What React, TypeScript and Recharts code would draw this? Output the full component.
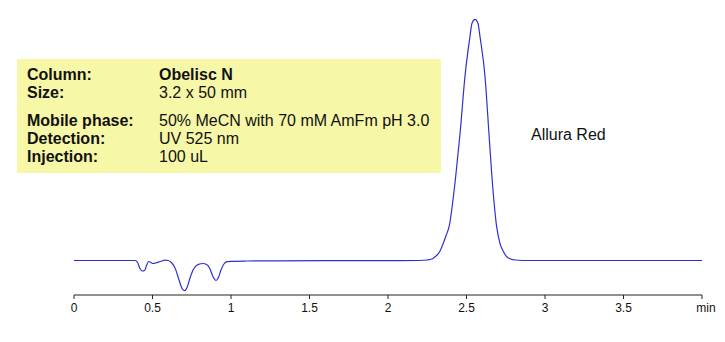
import { LineChart, Line, XAxis, YAxis } from 'recharts'

// retention time (min) and detector signal
const times = [
  0, 0.2, 0.39, 0.405, 0.42, 0.435, 0.45, 0.462, 0.475, 0.49, 0.505, 0.52, 0.55, 0.58, 0.6,
  0.62, 0.645, 0.67, 0.69, 0.705, 0.72, 0.74, 0.76, 0.78, 0.8, 0.82, 0.845, 0.865, 0.885,
  0.905, 0.92, 0.935, 0.955, 0.975, 1.0, 1.1, 1.3, 1.6, 2.0, 2.2, 2.25, 2.28, 2.3, 2.33,
  2.352, 2.37, 2.389, 2.431, 2.459, 2.49, 2.522, 2.535, 2.554, 2.573, 2.586, 2.618, 2.643,
  2.662, 2.692, 2.713, 2.735, 2.756, 2.78, 2.81, 2.9, 3.2, 3.6, 4,
]
const signal = [
  0, 0, 0, -2, -8, -10.5, -10, -5, -1, -2, -3, -2.5, -1, 0.3, 0,
  -2, -8, -20, -28.5, -30.2, -27, -17, -9, -5, -3.5, -3, -4, -8, -16,
  -20, -17, -10, -3.5, -1.2, -0.8, -0.5, -0.3, -0.2, -0.2, 0, 0.5, 1.5, 3.8, 9,
  17.2, 25, 33.8, 83.8, 127, 183.8, 223.8, 237.2, 241.2, 237.2, 223.8, 183.8, 127,
  83.8, 33.8, 17.2, 9, 3.8, 1.5, 0.5, 0, 0, 0, 0,
]
const xTicks = [0, 0.5, 1, 1.5, 2, 2.5, 3, 3.5, 4]

const labels = ['Column:', 'Size:', 'Mobile phase:', 'Detection:', 'Injection:']
const values = ['Obelisc N', '3.2 x 50 mm', '50% MeCN with 70 mM AmFm pH 3.0', 'UV 525 nm', '100 uL']
const rowTops = [66, 84, 112, 130, 148]

const data = times.map((t, i) => ({ t, v: signal[i] }))

function TimeTick({ x, y, payload }: { x?: number; y?: number; payload?: { value: number } }) {
  const v = payload?.value ?? 0
  const isEnd = v === 4
  return (
    <text
      x={(x ?? 0) + (isEnd ? 4 : 0)}
      y={y}
      dy="0.71em"
      textAnchor="middle"
      fill="#111"
      fontSize={12}
      fontFamily="Arial, 'Liberation Sans', sans-serif"
    >
      {isEnd ? 'min' : String(v)}
    </text>
  )
}

export default function App() {
  const font = "Arial, 'Liberation Sans', sans-serif"
  return (
    <div style={{ position: 'absolute', left: 0, top: 0, width: 725, height: 342, background: '#fff' }}>
      <div
        style={{
          position: 'absolute',
          left: 17,
          top: 59,
          width: 424,
          height: 114,
          background: '#f7f7a8',
        }}
      />
      {labels.map((l, i) => (
        <div
          key={l}
          style={{
            position: 'absolute',
            left: 27,
            top: rowTops[i],
            fontFamily: font,
            fontSize: 16,
            fontWeight: 'bold',
            color: '#111',
            lineHeight: '18px',
            whiteSpace: 'nowrap',
          }}
        >
          {l}
        </div>
      ))}
      {values.map((v, i) => (
        <div
          key={v}
          style={{
            position: 'absolute',
            left: 159,
            top: rowTops[i],
            fontFamily: font,
            fontSize: 16,
            fontWeight: i === 0 ? 'bold' : 'normal',
            color: '#111',
            lineHeight: '18px',
            whiteSpace: 'nowrap',
          }}
        >
          {v}
        </div>
      ))}
      <div
        style={{
          position: 'absolute',
          left: 531,
          top: 126,
          fontFamily: font,
          fontSize: 16,
          color: '#111',
          lineHeight: '18px',
        }}
      >
        Allura Red
      </div>
      <LineChart
        width={725}
        height={342}
        data={data}
        margin={{ top: 15, right: 23, left: 74, bottom: 17 }}
        style={{ position: 'absolute', left: 0, top: 0 }}
      >
        <XAxis
          dataKey="t"
          type="number"
          domain={[0, 4]}
          ticks={xTicks}
          height={30}
          tickSize={4}
          tickMargin={4}
          axisLine={{ stroke: '#222' }}
          tickLine={{ stroke: '#222' }}
          tick={<TimeTick />}
          interval={0}
        />
        <YAxis type="number" domain={[-34.5, 245.5]} hide />
        <Line
          type="monotone"
          dataKey="v"
          stroke="#3030d0"
          strokeWidth={1.2}
          dot={false}
          isAnimationActive={false}
        />
      </LineChart>
    </div>
  )
}
